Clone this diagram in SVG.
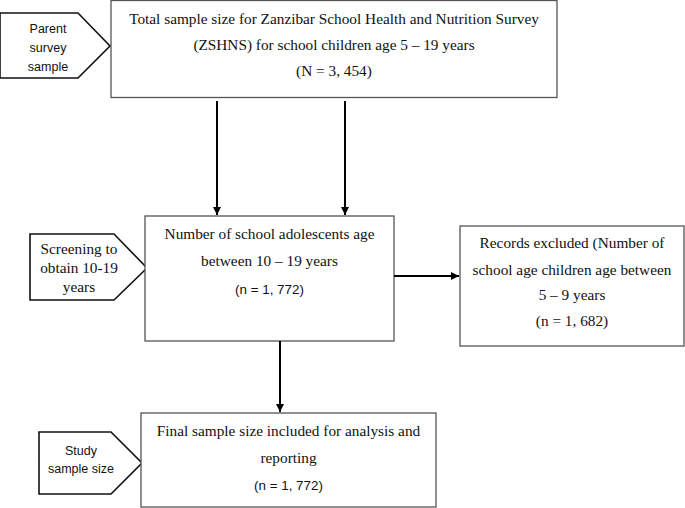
<svg xmlns="http://www.w3.org/2000/svg" width="685" height="508" viewBox="0 0 685 508">
<defs>
<marker id="ah" viewBox="0 0 8 8" refX="8" refY="4" markerWidth="8" markerHeight="8" markerUnits="userSpaceOnUse" orient="auto">
<path d="M0,0 L8,4 L0,8 Z" fill="#000"/>
</marker>
<style>
.box{fill:#fff;stroke:#555;stroke-width:1.3}
.tag{fill:#fff;stroke:#111;stroke-width:1.6}
.serif{font-family:"Liberation Serif","Times New Roman",serif;font-size:15.3px;fill:#111;text-anchor:middle}
.sans{font-family:"Liberation Sans",Arial,sans-serif;font-size:12.5px;fill:#111;text-anchor:middle}
.sansn{font-family:"Liberation Sans",Arial,sans-serif;font-size:13.4px;fill:#111;text-anchor:middle}
.conn{stroke:#000;stroke-width:2;fill:none;marker-end:url(#ah)}
</style>
</defs>
<rect width="685" height="508" fill="#fff"/>

<g id="parent-tag">
<polygon class="tag" points="0,13 78,13 110,46 78,78 0,78"/>
<text class="sans" x="48" y="33">Parent</text>
<text class="sans" x="48" y="52">survey</text>
<text class="sans" x="48" y="71">sample</text>
</g>

<g id="total-sample">
<rect class="box" x="111" y="0.5" width="446" height="97"/>
<text class="serif" x="334" y="24">Total sample size for Zanzibar School Health and Nutrition Survey</text>
<text class="serif" x="334" y="50">(ZSHNS) for school children age 5 – 19 years</text>
<text class="serif" x="334" y="76">(N = 3, 454)</text>
</g>

<g id="screening-tag">
<polygon class="tag" points="30,234 114,234 147,268 114,300 30,300"/>
<text class="serif" x="79" y="254">Screening to</text>
<text class="serif" x="79" y="273">obtain 10-19</text>
<text class="serif" x="79" y="292">years</text>
</g>

<g id="adolescents">
<rect class="box" x="145" y="216" width="249" height="125"/>
<text class="serif" x="269.5" y="239">Number of school adolescents age</text>
<text class="serif" x="269.5" y="266">between 10 – 19 years</text>
<text class="sansn" x="269.5" y="294">(n = 1, 772)</text>
</g>

<g id="excluded">
<rect class="box" x="460" y="226" width="224" height="120"/>
<text class="serif" x="572" y="248">Records excluded (Number of</text>
<text class="serif" x="572" y="275">school age children age between</text>
<text class="serif" x="572" y="300">5 – 9 years</text>
<text class="serif" x="572" y="326">(n = 1, 682)</text>
</g>

<g id="study-tag">
<polygon class="tag" points="39,432 111,432 142,463 111,494 39,494"/>
<text class="sans" x="81" y="455">Study</text>
<text class="sans" x="81" y="473">sample size</text>
</g>

<g id="final-sample">
<rect class="box" x="141" y="413" width="295" height="94"/>
<text class="serif" x="288.5" y="436">Final sample size included for analysis and</text>
<text class="serif" x="288.5" y="463">reporting</text>
<text class="sansn" x="288.5" y="490">(n = 1, 772)</text>
</g>

<g id="connectors">
<line class="conn" x1="217" y1="101" x2="217" y2="215"/>
<line class="conn" x1="345" y1="101" x2="345" y2="215"/>
<line class="conn" x1="394" y1="276" x2="459" y2="276"/>
<line class="conn" x1="280" y1="341" x2="280" y2="412"/>
</g>
</svg>
